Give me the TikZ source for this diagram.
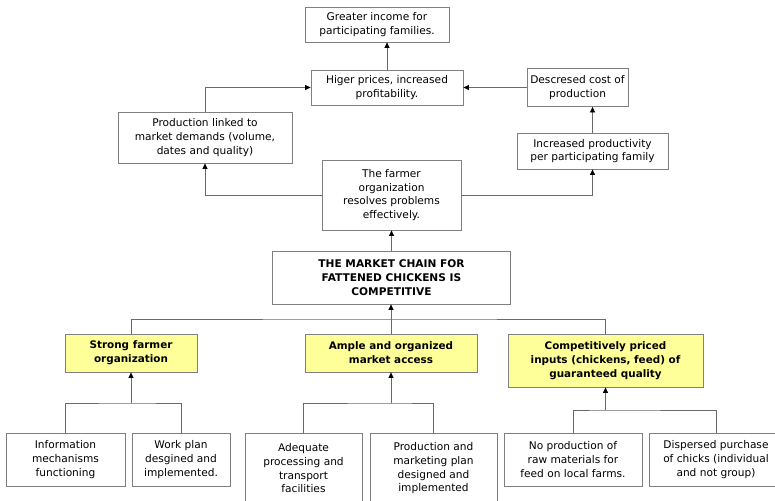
\documentclass[tikz,border=0pt]{standalone}
\usepackage{fontspec}
\setmainfont{DejaVu Sans}
\usetikzlibrary{arrows.meta}
\definecolor{boxgray}{HTML}{808080}
\definecolor{linegray}{HTML}{6A6A6A}
\definecolor{yel}{HTML}{FFFF99}
\begin{document}
\begin{tikzpicture}[x=1pt,y=-1pt,
  box/.style={draw=boxgray, line width=0.8pt, fill=white, inner sep=0pt, align=center,
    font=\fontsize{10.6}{13.6}\selectfont, text=black},
  ybox/.style={box, fill=yel, font=\fontsize{10.4}{13.8}\selectfont\bfseries},
  conn/.style={draw=linegray, line width=0.7pt},
  arr/.style={conn, -{Triangle[length=5.5pt,width=5pt,color=black]}},
]
\useasboundingbox (0,0) rectangle (775,500);
\clip (0,0) rectangle (775,500);
\fill[white] (0,0) rectangle (775,500);

% top part
\node[box, minimum width=144pt, minimum height=35pt] (greater) at (377,24.5) {Greater income for\\participating families.};
\node[box, minimum width=152pt, minimum height=35pt] (higer) at (387,87.5) {Higer prices, increased\\profitability.};
\node[box, minimum width=174pt, minimum height=51pt] (prod) at (205,137.5) {Production linked to\\market demands (volume,\\dates and quality)};
\node[box, minimum width=101pt, minimum height=38pt] (desc) at (577.5,87.5) {Descresed cost of\\production};
\node[box, minimum width=151pt, minimum height=36pt] (incr) at (592.5,151) {Increased productivity\\per participating family};
\node[box, minimum width=139pt, minimum height=70pt] (farmer) at (391.5,195) {The farmer\\organization\\resolves problems\\effectively.};
\node[box, minimum width=238pt, minimum height=53pt, font=\fontsize{10.6}{13.8}\selectfont\bfseries] (chain) at (391.5,277.5) {THE MARKET CHAIN FOR\\FATTENED CHICKENS IS\\COMPETITIVE};

% yellow row
\node[ybox, minimum width=132pt, minimum height=38pt] (strong) at (131,353) {Strong farmer\\organization};
\node[ybox, minimum width=172pt, minimum height=38pt] (ample) at (391,353) {Ample and organized\\market access};
\node[ybox, minimum width=195pt, minimum height=53pt] (comp) at (605.5,360.5) {Competitively priced\\inputs (chickens, feed) of\\guaranteed quality};

% bottom row
\node[box, minimum width=119pt, minimum height=53pt] (info) at (65.5,459.5) {Information\\mechanisms\\functioning};
\node[box, minimum width=98pt, minimum height=53pt] (work) at (181,459.5) {Work plan\\desgined and\\implemented.};
\node[box, minimum width=117pt, minimum height=70pt, anchor=north] (adeq) at (303.5,433) {Adequate\\processing and\\transport\\facilities};
\node[box, minimum width=127pt, minimum height=70pt, anchor=north] (plan) at (433.5,433) {Production and\\marketing plan\\designed and\\implemented};
\node[box, minimum width=138pt, minimum height=53pt] (noprod) at (573,459.5) {No production of\\raw materials for\\feed on local farms.};
\node[box, minimum width=134pt, minimum height=53pt] (disp) at (716,459.5) {Dispersed purchase\\of chicks (individual\\and not group)};

% connectors, top
\draw[arr] (higer.north) -- (higer.north |- greater.south);
\draw[arr] (prod.north) |- (higer.west);
\draw[arr] (desc.west) -- (desc.west -| higer.east);
\draw[arr] (incr.north) -- (incr.north |- desc.south);
\draw[arr] (farmer.west) -| (prod.south);
\draw[arr] (farmer.east) -| (incr.south);
\draw[arr] (chain.north) -- (farmer.south);

% yellow row to chain
\coordinate (j1) at (391,319);
\draw[conn] (strong.north) |- (j1) -| (comp.north);
\draw[arr] (ample.north) -- (ample.north |- chain.south);

% bottom row
\coordinate (j2) at (131,403);
\coordinate (j3) at (391,403);
\coordinate (j4) at (605.5,410);
\draw[conn] (info.north) |- (j2) -| (work.north);
\draw[arr] (j2) -- (strong.south);
\draw[conn] (adeq.north) |- (j3) -| (plan.north);
\draw[arr] (j3) -- (ample.south);
\draw[conn] (noprod.north) |- (j4) -| (disp.north);
\draw[arr] (j4) -- (comp.south);
\end{tikzpicture}
\end{document}
